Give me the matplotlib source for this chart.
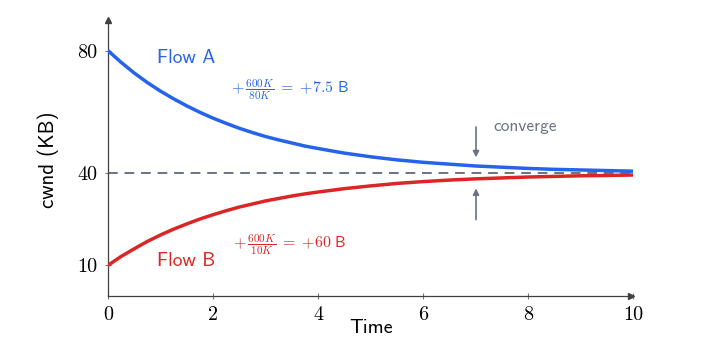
import matplotlib
matplotlib.use("Agg")
import matplotlib.pyplot as plt

# Data
time = [0, 0.25, 0.5, 0.75, 1, 1.25, 1.5, 1.75, 2, 2.25, 2.5, 2.75, 3, 3.25, 3.5, 3.75, 4,
        4.5, 5, 5.5, 6, 6.5, 7, 7.5, 8, 8.5, 9, 9.5, 10]
flow_a = [80, 76.2, 72.7, 69.6, 66.8, 64.3, 62.0, 59.9, 58.0, 56.3, 54.7, 53.3, 52.0, 50.9,
          49.9, 48.9, 48.1, 46.6, 45.4, 44.4, 43.6, 43.0, 42.4, 42.0, 41.6, 41.3, 41.1,
          40.9, 40.7]
flow_b = [10, 12.9, 15.4, 17.8, 19.9, 21.8, 23.5, 25.1, 26.5, 27.8, 29.0, 30.0, 31.0, 31.8,
          32.6, 33.3, 33.9, 35.0, 35.9, 36.7, 37.3, 37.8, 38.2, 38.5, 38.8, 39.0, 39.2,
          39.3, 39.45]
fair_share = 40
x_ticks = [0, 2, 4, 6, 8, 10]
y_ticks = [10, 40, 80]

BLUE = "#2563EB"
RED = "#DC2626"
GRAY = "#6B7280"
AXC = "#404040"

plt.rcParams["mathtext.fontset"] = "cm"

fig = plt.figure(figsize=(7.06, 3.57), dpi=100)
ax = fig.add_axes([108 / 706, 1 - 296 / 357, 525 / 706, 276 / 357])
ax.set_xlim(0, 10)
ax.set_ylim(0, 90)

ax.axhline(fair_share, xmin=0, xmax=1, color=GRAY, lw=1.4, ls=(0, (5, 3.5)), zorder=1)
ax.plot(time, flow_a, color=BLUE, lw=2.5, solid_capstyle="round", solid_joinstyle="round", zorder=3)
ax.plot(time, flow_b, color=RED, lw=2.5, solid_capstyle="round", solid_joinstyle="round", zorder=3)

for s in ["top", "right"]:
    ax.spines[s].set_visible(False)
for s in ["left", "bottom"]:
    ax.spines[s].set_color(AXC)
    ax.spines[s].set_linewidth(0.9)
ax.plot(0.997, 0, marker=">", color=AXC, ms=4, transform=ax.transAxes, clip_on=False)
ax.plot(0, 1, marker="^", color=AXC, ms=4, transform=ax.transAxes, clip_on=False)

ax.set_xticks(x_ticks)
ax.set_yticks(y_ticks)
ax.set_xticklabels([str(v) for v in x_ticks], family="cmr10", fontsize=14.5)
ax.set_yticklabels([str(v) for v in y_ticks], family="cmr10", fontsize=14.5)
ax.tick_params(direction="inout", length=5, width=0.8, color="#777777", pad=5)

ax.set_xlabel("Time", family="cmss10", fontsize=14.5, va="center")
ax.xaxis.set_label_coords(0.501, -0.115)
ax.set_ylabel("cwnd (KB)", family="cmss10", fontsize=15, va="center")
ax.yaxis.set_label_coords(-0.114, 0.493)

ax.text(0.93, 77.7, "Flow A", color=BLUE, family="cmss10", fontsize=14, va="center", ha="left")
ax.text(0.93, 11.5, "Flow B", color=RED, family="cmss10", fontsize=14, va="center", ha="left")

ax.text(2.34, 67.4, r"$+\,\frac{600K}{80K}\;=\;{+7.5}\ \mathsf{B}$", color=BLUE, fontsize=11.5,
        va="center", ha="left")
ax.text(2.38, 16.8, r"$+\,\frac{600K}{10K}\;=\;{+60}\ \mathsf{B}$", color=RED, fontsize=11.5,
        va="center", ha="left")

ax.annotate("", xy=(7.01, 45.2), xytext=(7.01, 55.1),
            arrowprops=dict(arrowstyle="-|>", color=GRAY, lw=1.2, mutation_scale=9,
                            shrinkA=0, shrinkB=0))
ax.annotate("", xy=(7.01, 35.1), xytext=(7.01, 24.9),
            arrowprops=dict(arrowstyle="-|>", color=GRAY, lw=1.2, mutation_scale=9,
                            shrinkA=0, shrinkB=0))
ax.text(7.35, 55.4, "converge", color=GRAY, family="cmss10", fontsize=12.5, va="center", ha="left")

fig.savefig("out.png", dpi=100)
